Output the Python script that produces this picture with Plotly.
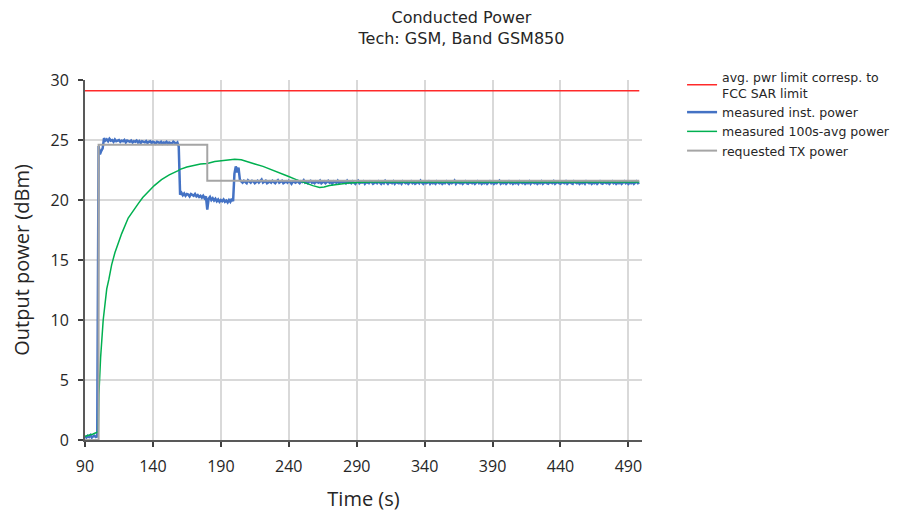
import plotly.graph_objects as go

# ---------------- data ----------------
X_TICKS = [90, 140, 190, 240, 290, 340, 390, 440, 490]
Y_TICKS = [0, 5, 10, 15, 20, 25, 30]

# avg. power limit (FCC SAR)
limit_t = [90, 498]
limit_p = [29.1, 29.1]

# requested TX power (step profile)
req_t = [90, 100, 100, 180, 180, 498]
req_p = [0.0, 0.0, 24.6, 24.6, 21.6, 21.6]

# measured 100s-average power
avg_t = [90, 92, 94, 96, 98, 99.8, 100.2, 101.5, 103.4, 106, 107.6, 109.6, 112,
         115.7, 117, 121.8, 125, 129.2, 132.5, 136.5, 141, 146.3, 152, 158.6, 160,
         165, 170.8, 175, 180, 185.5, 192, 200.2, 205, 210, 215, 221, 227, 233,
         239, 245.5, 251, 257.7, 262.7, 266, 270, 277, 284, 290, 300, 350, 400,
         450, 498]
avg_p = [0.30, 0.35, 0.45, 0.50, 0.60, 0.70, 3.75, 6.9, 10.0, 12.6, 13.4, 14.6, 15.6,
         16.9, 17.2, 18.5, 19.05, 19.7, 20.2, 20.7, 21.2, 21.7, 22.1, 22.45, 22.55,
         22.75, 22.9, 23.0, 23.05, 23.2, 23.3, 23.4, 23.35, 23.2, 23.0, 22.8, 22.55, 22.3,
         22.0, 21.7, 21.45, 21.2, 21.05, 21.08, 21.2, 21.33, 21.42, 21.45, 21.5, 21.5, 21.5,
         21.5, 21.5]

# measured instantaneous power, one sample per second from t = 90 s to 498 s
inst_t = list(range(90, 499))
inst_p = [
    # 90-99
    0.30, 0.20, 0.35, 0.25, 0.40, 0.20, 0.30, 0.35, 0.25, 0.30,
    # 100-103
    24.5, 23.8, 24.1, 24.3,
    # 104-159
    25.15, 24.95, 25.05, 24.9, 25.1, 24.95, 25.0, 24.85, 25.05, 24.9,
    24.95, 25.0, 24.85, 24.95, 24.9, 25.0, 24.8, 24.95, 24.9, 24.85,
    24.95, 24.8, 24.9, 24.85, 24.95, 24.8, 24.9, 24.75, 24.9, 24.85,
    24.8, 24.9, 24.75, 24.85, 24.9, 24.75, 24.85, 24.8, 24.7, 24.85,
    24.8, 24.75, 24.85, 24.7, 24.8, 24.75, 24.85, 24.7, 24.8, 24.75,
    24.7, 24.85, 24.75, 24.7, 24.8, 24.45,
    # 160-199
    20.45, 20.6, 20.4, 20.55, 20.35, 20.5, 20.45, 20.3, 20.5, 20.4,
    20.35, 20.5, 20.3, 20.4, 20.25, 20.35, 20.2, 20.35, 20.15, 20.3,
    19.2, 20.1, 20.25, 20.0, 20.15, 19.95, 20.1, 19.9, 20.05, 19.85,
    20.0, 19.9, 20.05, 19.85, 19.95, 19.8, 20.0, 19.85, 20.1, 19.9,
    # 200-204
    22.2, 22.8, 22.3, 22.7, 21.7,
    # 205-498
    21.55, 21.45, 21.6, 21.5, 21.4, 21.65, 21.5, 21.45, 21.6, 21.55, 21.4, 21.5, 21.6, 21.45, 21.55, 21.7, 21.45, 21.5, 21.6, 21.4,
    21.5, 21.55, 21.45, 21.6, 21.5, 21.4, 21.55, 21.65, 21.45, 21.5, 21.6, 21.4, 21.5, 21.55, 21.45, 21.6, 21.5, 21.35, 21.55, 21.5,
    21.45, 21.6, 21.5, 21.4, 21.55, 21.5, 21.65, 21.45, 21.5, 21.4, 21.55, 21.6, 21.45, 21.5, 21.4, 21.55, 21.5, 21.45, 21.6, 21.4,
    21.5, 21.55, 21.4, 21.5, 21.6, 21.45, 21.5, 21.35, 21.55, 21.5, 21.45, 21.6, 21.4, 21.5, 21.55, 21.45, 21.5, 21.4, 21.6, 21.45,
    21.5, 21.4, 21.55, 21.45, 21.35, 21.5, 21.6, 21.4, 21.5, 21.45, 21.55, 21.35, 21.5, 21.45, 21.4, 21.55, 21.5, 21.35, 21.45, 21.5,
    21.4, 21.55, 21.45, 21.35, 21.5, 21.4, 21.6, 21.45, 21.35, 21.5, 21.45, 21.4, 21.55, 21.35, 21.5, 21.45, 21.4, 21.5, 21.35, 21.55,
    21.45, 21.4, 21.5, 21.35, 21.45, 21.55, 21.4, 21.5, 21.35, 21.45, 21.5, 21.4, 21.6, 21.45, 21.35, 21.5, 21.4, 21.45, 21.55, 21.35,
    21.5, 21.4, 21.45, 21.35, 21.55, 21.45, 21.4, 21.5, 21.35, 21.45, 21.4, 21.55, 21.45, 21.35, 21.5, 21.4, 21.45, 21.6, 21.35, 21.5,
    21.45, 21.4, 21.5, 21.35, 21.45, 21.55, 21.4, 21.35, 21.5, 21.45, 21.4, 21.5, 21.35, 21.45, 21.55, 21.4, 21.5, 21.35, 21.45, 21.4,
    21.5, 21.35, 21.45, 21.55, 21.4, 21.5, 21.35, 21.45, 21.4, 21.5, 21.6, 21.35, 21.45, 21.4, 21.5, 21.35, 21.45, 21.55, 21.4, 21.5,
    21.35, 21.45, 21.4, 21.5, 21.35, 21.55, 21.45, 21.4, 21.5, 21.35, 21.45, 21.4, 21.55, 21.35, 21.5, 21.45, 21.4, 21.5, 21.35, 21.45,
    21.4, 21.55, 21.35, 21.45, 21.5, 21.4, 21.35, 21.5, 21.45, 21.4, 21.55, 21.35, 21.45, 21.5, 21.4, 21.35, 21.5, 21.45, 21.4, 21.55,
    21.35, 21.45, 21.5, 21.4, 21.35, 21.55, 21.45, 21.4, 21.5, 21.35, 21.45, 21.4, 21.5, 21.35, 21.55, 21.45, 21.4, 21.5, 21.35, 21.45,
    21.4, 21.5, 21.35, 21.45, 21.55, 21.4, 21.35, 21.5, 21.45, 21.4, 21.5, 21.35, 21.45, 21.55, 21.4, 21.5, 21.35, 21.45, 21.4, 21.5,
    21.35, 21.45, 21.55, 21.4, 21.5, 21.35, 21.45, 21.4, 21.5, 21.35, 21.45, 21.55, 21.4, 21.45,
]
assert len(inst_t) == len(inst_p)

TITLE = "Conducted Power<br>Tech: GSM, Band GSM850"
X_TITLE = "Time (s)"
Y_TITLE = "Output power (dBm)"
NAMES = ["avg. pwr limit corresp. to<br>FCC SAR limit", "measured inst. power",
         "measured 100s-avg power", "requested TX power"]

# ---------------- figure ----------------
fig = go.Figure()
fig.add_trace(go.Scatter(x=limit_t, y=limit_p, mode="lines", name=NAMES[0],
                         line=dict(color="#ff2a2a", width=1.5)))
fig.add_trace(go.Scatter(x=inst_t, y=inst_p, mode="lines", name=NAMES[1],
                         line=dict(color="#4472c4", width=2.5)))
fig.add_trace(go.Scatter(x=avg_t, y=avg_p, mode="lines", name=NAMES[2],
                         line=dict(color="#00b050", width=1.5)))
fig.add_trace(go.Scatter(x=req_t, y=req_p, mode="lines", name=NAMES[3],
                         line=dict(color="#a5a5a5", width=2)))

axis_common = dict(
    showgrid=True, gridcolor="#d9d9d9", gridwidth=1.5,
    showline=True, linecolor="#595959", linewidth=2,
    ticks="outside", ticklen=5, tickwidth=1.5, tickcolor="#404040",
    tickfont=dict(family="Open Sans, sans-serif", size=16, color="#262626"),
    zeroline=False, automargin=False,
)

# the page body adds an 8 px margin, so the figure is sized to fit the window
fig.update_layout(
    width=898, height=507, autosize=False,
    margin=dict(l=77, r=263, t=72, b=75),
    paper_bgcolor="white", plot_bgcolor="white",
    title=dict(text=TITLE, x=0.505, xref="container", xanchor="center",
               y=0.971, yref="container", yanchor="top",
               font=dict(family="DejaVu Sans, sans-serif", size=16, color="#262626")),
    xaxis=dict(range=[90, 500], tickvals=X_TICKS, ticklabelstandoff=6,
               title=dict(text=X_TITLE, standoff=16,
                          font=dict(family="Open Sans, sans-serif", size=20, color="#262626")),
               **axis_common),
    yaxis=dict(range=[0, 30], tickvals=Y_TICKS, ticklabelstandoff=6,
               title=dict(text=Y_TITLE, standoff=24,
                          font=dict(family="Open Sans, sans-serif", size=20, color="#262626")),
               **axis_common),
    legend=dict(x=1.07, xanchor="left", y=1.05, yanchor="top",
                font=dict(family="DejaVu Sans, sans-serif", size=12.5, color="#262626"),
                bgcolor="rgba(0,0,0,0)", tracegroupgap=0, itemwidth=30),
    showlegend=True,
)

fig.write_html("out.html")
